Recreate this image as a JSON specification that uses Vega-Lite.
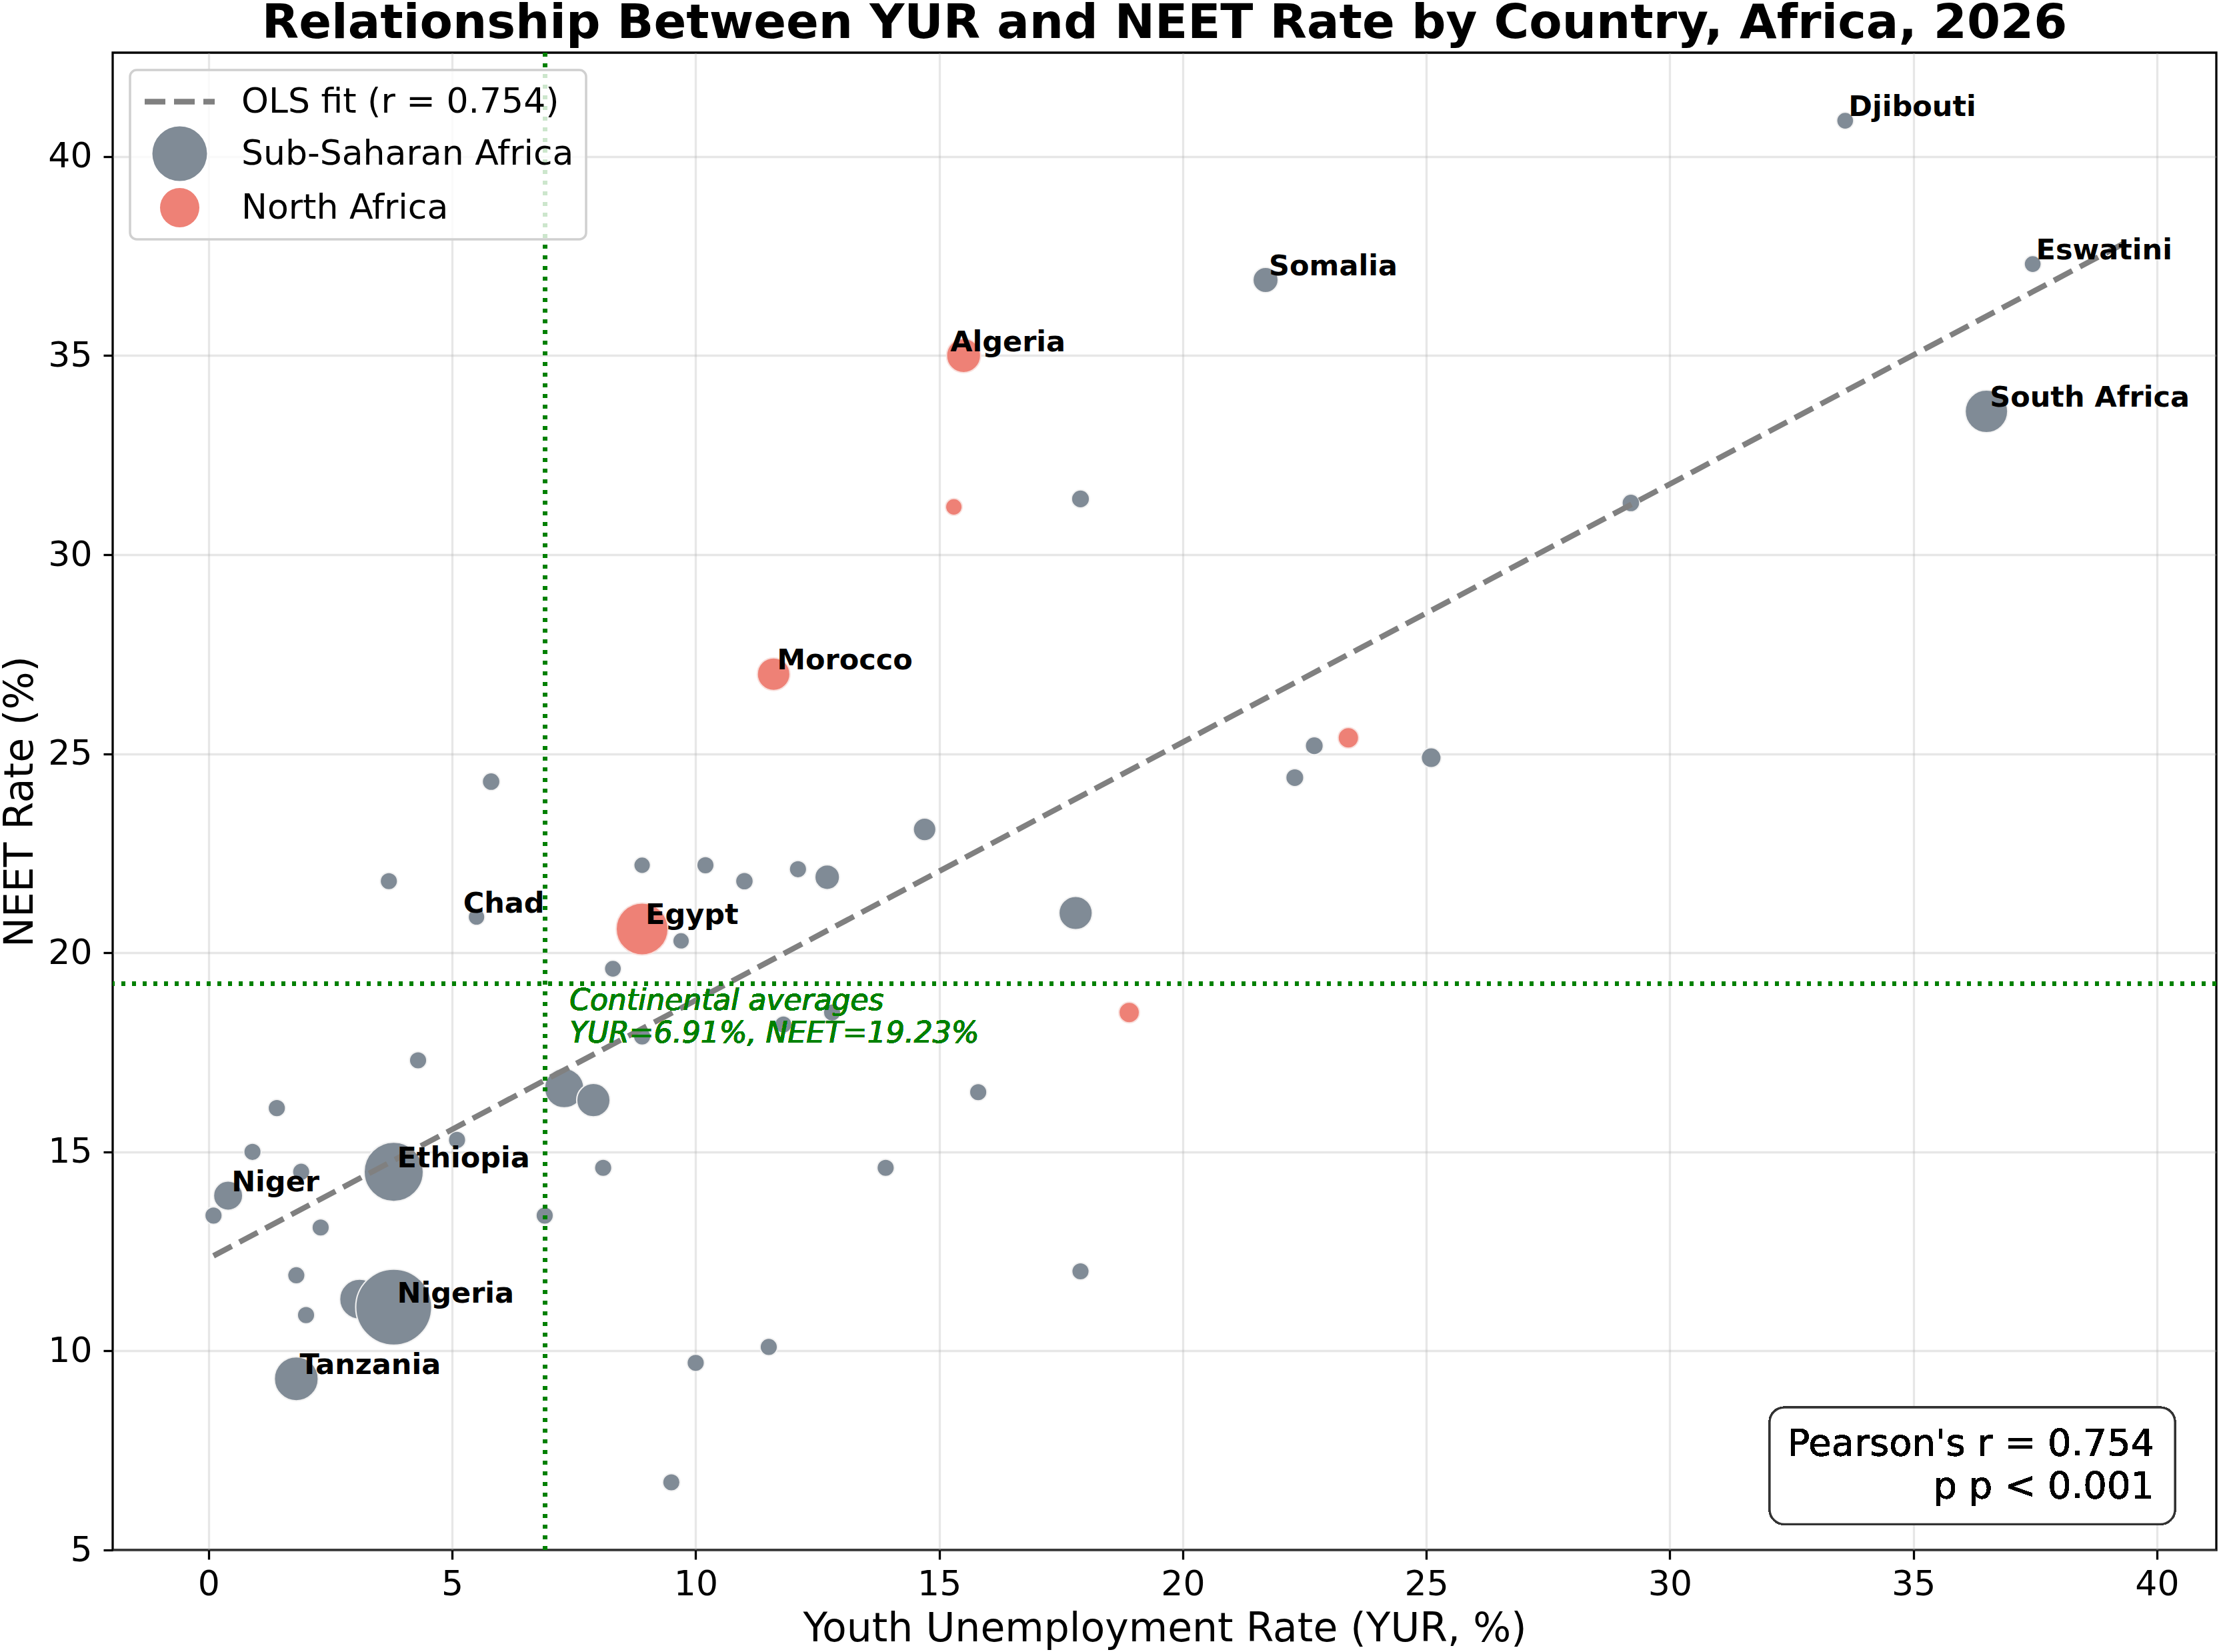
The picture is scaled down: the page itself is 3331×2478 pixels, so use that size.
{
  "$schema": "https://vega.github.io/schema/vega-lite/v6.json",
  "width": 3155,
  "height": 2246,
  "autosize": {"type": "none"},
  "padding": {"left": 169, "top": 79, "right": 7, "bottom": 153},
  "background": "white",
  "title": {
    "text": "Relationship Between YUR and NEET Rate by Country, Africa, 2026",
    "font": "DejaVu Sans",
    "fontSize": 72,
    "fontWeight": "bold",
    "color": "black",
    "anchor": "middle",
    "offset": 4
  },
  "config": {
    "font": "DejaVu Sans",
    "view": {"stroke": "black", "strokeWidth": 3.3},
    "legend": {"strokeWidth": 3.5},
    "axis": {
      "domain": false,
      "grid": true,
      "gridColor": "#b0b0b0",
      "gridOpacity": 0.3,
      "gridWidth": 3.3,
      "tickColor": "black",
      "tickWidth": 3.3,
      "tickSize": 14,
      "labelFont": "DejaVu Sans",
      "labelFontSize": 52,
      "labelColor": "black",
      "titleFont": "DejaVu Sans",
      "titleFontSize": 60,
      "titleFontWeight": "normal",
      "titleColor": "black"
    }
  },
  "data": {
    "values": [
      {"yur": 33.6, "neet": 40.9, "pop": 1.5, "region": "Sub-Saharan Africa", "country": "Djibouti"},
      {"yur": 21.7, "neet": 36.9, "pop": 16, "region": "Sub-Saharan Africa", "country": "Somalia"},
      {"yur": 37.45, "neet": 37.3, "pop": 1.5, "region": "Sub-Saharan Africa", "country": "Eswatini"},
      {"yur": 36.5, "neet": 33.6, "pop": 65, "region": "Sub-Saharan Africa", "country": "South Africa"},
      {"yur": 17.9, "neet": 31.4, "pop": 3, "region": "Sub-Saharan Africa"},
      {"yur": 29.2, "neet": 31.3, "pop": 2.5, "region": "Sub-Saharan Africa"},
      {"yur": 25.1, "neet": 24.9, "pop": 6, "region": "Sub-Saharan Africa"},
      {"yur": 22.7, "neet": 25.2, "pop": 3, "region": "Sub-Saharan Africa"},
      {"yur": 22.3, "neet": 24.4, "pop": 3, "region": "Sub-Saharan Africa"},
      {"yur": 5.8, "neet": 24.3, "pop": 2.5, "region": "Sub-Saharan Africa"},
      {"yur": 14.7, "neet": 23.1, "pop": 11, "region": "Sub-Saharan Africa"},
      {"yur": 3.7, "neet": 21.8, "pop": 2, "region": "Sub-Saharan Africa"},
      {"yur": 8.9, "neet": 22.2, "pop": 1, "region": "Sub-Saharan Africa"},
      {"yur": 10.2, "neet": 22.2, "pop": 2, "region": "Sub-Saharan Africa"},
      {"yur": 11.0, "neet": 21.8, "pop": 2.5, "region": "Sub-Saharan Africa"},
      {"yur": 12.1, "neet": 22.1, "pop": 2, "region": "Sub-Saharan Africa"},
      {"yur": 12.7, "neet": 21.9, "pop": 15, "region": "Sub-Saharan Africa"},
      {"yur": 17.8, "neet": 21.0, "pop": 36, "region": "Sub-Saharan Africa"},
      {"yur": 5.5, "neet": 20.9, "pop": 1, "region": "Sub-Saharan Africa", "country": "Chad"},
      {"yur": 9.7, "neet": 20.3, "pop": 1, "region": "Sub-Saharan Africa"},
      {"yur": 8.3, "neet": 19.6, "pop": 1.5, "region": "Sub-Saharan Africa"},
      {"yur": 11.8, "neet": 18.2, "pop": 2, "region": "Sub-Saharan Africa"},
      {"yur": 12.8, "neet": 18.5, "pop": 2, "region": "Sub-Saharan Africa"},
      {"yur": 8.9, "neet": 17.9, "pop": 2, "region": "Sub-Saharan Africa"},
      {"yur": 4.3, "neet": 17.3, "pop": 2, "region": "Sub-Saharan Africa"},
      {"yur": 7.3, "neet": 16.6, "pop": 54, "region": "Sub-Saharan Africa"},
      {"yur": 7.9, "neet": 16.3, "pop": 36, "region": "Sub-Saharan Africa"},
      {"yur": 15.8, "neet": 16.5, "pop": 2, "region": "Sub-Saharan Africa"},
      {"yur": 1.4, "neet": 16.1, "pop": 2, "region": "Sub-Saharan Africa"},
      {"yur": 0.9, "neet": 15.0, "pop": 2, "region": "Sub-Saharan Africa"},
      {"yur": 5.1, "neet": 15.3, "pop": 2, "region": "Sub-Saharan Africa"},
      {"yur": 3.8, "neet": 14.5, "pop": 136, "region": "Sub-Saharan Africa", "country": "Ethiopia"},
      {"yur": 1.9, "neet": 14.5, "pop": 2, "region": "Sub-Saharan Africa"},
      {"yur": 8.1, "neet": 14.6, "pop": 2, "region": "Sub-Saharan Africa"},
      {"yur": 13.9, "neet": 14.6, "pop": 2, "region": "Sub-Saharan Africa"},
      {"yur": 0.4, "neet": 13.9, "pop": 25, "region": "Sub-Saharan Africa", "country": "Niger"},
      {"yur": 0.1, "neet": 13.4, "pop": 2, "region": "Sub-Saharan Africa"},
      {"yur": 2.3, "neet": 13.1, "pop": 2, "region": "Sub-Saharan Africa"},
      {"yur": 6.9, "neet": 13.4, "pop": 2, "region": "Sub-Saharan Africa"},
      {"yur": 17.9, "neet": 12.0, "pop": 2, "region": "Sub-Saharan Africa"},
      {"yur": 1.8, "neet": 11.9, "pop": 2, "region": "Sub-Saharan Africa"},
      {"yur": 3.1, "neet": 11.3, "pop": 56, "region": "Sub-Saharan Africa"},
      {"yur": 3.8, "neet": 11.1, "pop": 230, "region": "Sub-Saharan Africa", "country": "Nigeria"},
      {"yur": 2.0, "neet": 10.9, "pop": 2, "region": "Sub-Saharan Africa"},
      {"yur": 11.5, "neet": 10.1, "pop": 2, "region": "Sub-Saharan Africa"},
      {"yur": 10.0, "neet": 9.7, "pop": 2, "region": "Sub-Saharan Africa"},
      {"yur": 1.8, "neet": 9.3, "pop": 70, "region": "Sub-Saharan Africa", "country": "Tanzania"},
      {"yur": 9.5, "neet": 6.7, "pop": 2, "region": "Sub-Saharan Africa"},
      {"yur": 15.5, "neet": 35.0, "pop": 38, "region": "North Africa", "country": "Algeria"},
      {"yur": 15.3, "neet": 31.2, "pop": 1, "region": "North Africa"},
      {"yur": 11.6, "neet": 27.0, "pop": 34, "region": "North Africa", "country": "Morocco"},
      {"yur": 23.4, "neet": 25.4, "pop": 7, "region": "North Africa"},
      {"yur": 8.9, "neet": 20.6, "pop": 102, "region": "North Africa", "country": "Egypt"},
      {"yur": 18.9, "neet": 18.5, "pop": 7, "region": "North Africa"}
    ]
  },
  "encoding": {
    "x": {
      "field": "yur",
      "type": "quantitative",
      "scale": {"domain": [-1.97, 41.22], "nice": false, "zero": false},
      "axis": {"title": "Youth Unemployment Rate (YUR, %)", "values": [0, 5, 10, 15, 20, 25, 30, 35, 40], "labelPadding": 12, "titlePadding": 12}
    },
    "y": {
      "field": "neet",
      "type": "quantitative",
      "scale": {"domain": [5, 42.61], "nice": false, "zero": false},
      "axis": {"title": "NEET Rate (%)", "values": [5, 10, 15, 20, 25, 30, 35, 40], "labelPadding": 17, "titlePadding": 10}
    }
  },
  "layer": [
    {
      "mark": {"type": "circle", "opacity": 1, "strokeWidth": 2},
      "encoding": {
        "color": {
          "field": "region",
          "type": "nominal",
          "scale": {"domain": ["OLS fit (r = 0.754)", "Sub-Saharan Africa", "North Africa"], "range": ["#808080", "#808b96", "#ee8176"]},
          "legend": {
            "title": null,
            "orient": "top-left",
            "offset": 26,
            "padding": 18,
            "labelFont": "DejaVu Sans",
            "labelFontSize": 52,
            "labelColor": "black",
            "labelLimit": 2000,
            "labelOffset": 63,
            "symbolOffset": 27,
            "rowPadding": 10,
            "fillColor": "rgba(255,255,255,0.8)",
            "strokeColor": "#d0d0d0",
            "cornerRadius": 10,
            "symbolType": {"expr": "datum.value === 'OLS fit (r = 0.754)' ? 'stroke' : 'circle'"},
            "symbolSize": {"expr": "(datum.value === 'OLS fit (r = 0.754)' ? 11025 : (datum.value === 'Sub-Saharan Africa' ? 6724 : 3481))"},
            "symbolStrokeWidth": {"expr": "(datum.value === 'OLS fit (r = 0.754)' ? 8.3 : 0)"},
            "symbolDash": {"expr": "datum.value === 'OLS fit (r = 0.754)' ? [31, 13] : [1, 0]"}
          }
        },
        "stroke": {
          "field": "region",
          "type": "nominal",
          "scale": {"domain": ["OLS fit (r = 0.754)", "Sub-Saharan Africa", "North Africa"], "range": ["#808080", "#f2f2f2", "#f8e0dd"]},
          "legend": {"title": null}
        },
        "size": {
          "field": "pop",
          "type": "quantitative",
          "scale": {"domain": [0, 230], "range": [576, 12996], "zero": false},
          "legend": null
        }
      }
    },
    {
      "transform": [{"regression": "neet", "on": "yur", "extent": [0.1, 39.3]}],
      "mark": {"type": "line", "color": "#808080", "strokeWidth": 8.3, "strokeDash": [31, 13]},
      "encoding": {}
    },
    {
      "mark": {"type": "rule", "color": "green", "opacity": 0.7, "strokeWidth": 6, "strokeDash": [6, 10]},
      "encoding": {"x": {"datum": 6.91}, "y": null}
    },
    {
      "mark": {"type": "rule", "color": "green", "opacity": 0.7, "strokeWidth": 6, "strokeDash": [6, 10]},
      "encoding": {"y": {"datum": 19.23}, "x": null}
    },
    {
      "transform": [{"filter": "isValid(datum.country) && datum.country !== 'Chad' && datum.country !== 'Algeria'"}],
      "mark": {"type": "text", "font": "DejaVu Sans", "fontSize": 43, "fontWeight": "bold", "color": "black", "align": "left", "baseline": "alphabetic", "dx": 5, "dy": -7},
      "encoding": {"text": {"field": "country"}}
    },
    {
      "transform": [{"filter": "datum.country === 'Chad' || datum.country === 'Algeria'"}],
      "mark": {"type": "text", "font": "DejaVu Sans", "fontSize": 43, "fontWeight": "bold", "color": "black", "align": "left", "baseline": "alphabetic", "dx": -20, "dy": -6},
      "encoding": {"text": {"field": "country"}}
    },
    {
      "mark": {"type": "text", "font": "DejaVu Sans", "fontSize": 44, "fontStyle": "italic", "color": "green", "align": "left", "baseline": "alphabetic", "lineHeight": 49},
      "encoding": {"x": {"datum": 7.41}, "y": {"datum": 18.57}, "text": {"value": ["Continental averages", "YUR=6.91%, NEET=19.23%"]}}
    },
    {
      "mark": {"type": "rect", "fill": "white", "stroke": "#333333", "strokeWidth": 3, "cornerRadius": 22},
      "encoding": {"x": {"datum": 32.05}, "x2": {"datum": 40.37}, "y": {"datum": 8.58}, "y2": {"datum": 5.65}}
    },
    {
      "mark": {"type": "text", "font": "DejaVu Sans", "fontSize": 56, "color": "black", "align": "right", "baseline": "alphabetic", "lineHeight": 64},
      "encoding": {"x": {"datum": 39.95}, "y": {"datum": 7.38}, "text": {"value": ["Pearson's r = 0.754", "p p < 0.001"]}}
    }
  ]
}
